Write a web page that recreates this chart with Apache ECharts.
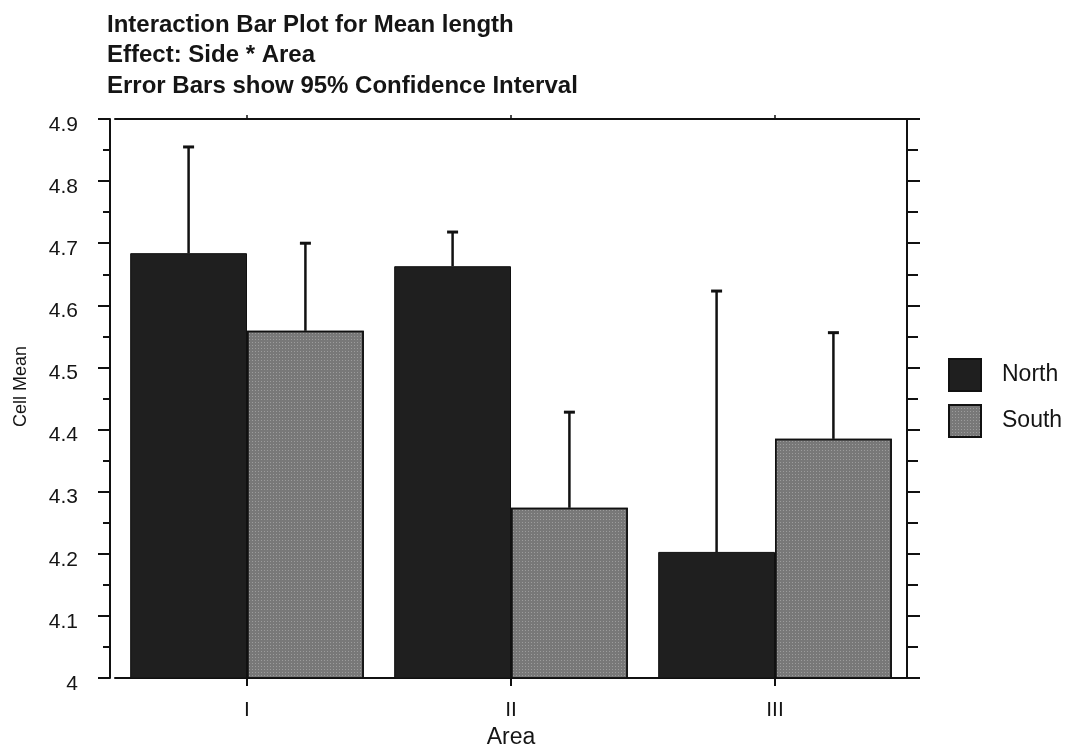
<!DOCTYPE html>
<html>
<head>
<meta charset="utf-8">
<script src="https://cdn.jsdelivr.net/npm/echarts@6/dist/echarts.min.js"></script>
<style>
html,body{margin:0;padding:0;background:#ffffff;}
#chart{width:1070px;height:751px;}
</style>
</head>
<body>
<div id="chart"></div>
<script>
var categories = ['I', 'II', 'III'];
var seriesNames = ['North', 'South'];
var northMean = [4.684, 4.663, 4.203];
var northUpper = [4.855, 4.718, 4.623];
var southMean = [4.559, 4.274, 4.385];
var southUpper = [4.700, 4.428, 4.556];
var yTicks = [4, 4.1, 4.2, 4.3, 4.4, 4.5, 4.6, 4.7, 4.8, 4.9];

var GAP = 0.115;
var FONT = '"Liberation Sans", Arial, Helvetica, sans-serif';

function errData(mean, upper) {
  return mean.map(function (m, i) { return [i, m, upper[i]]; });
}

function makeErr(side) {
  return function (params, api) {
    var cat = api.value(0), mean = api.value(1), up = api.value(2);
    var base = api.coord([cat, mean]);
    var top = api.coord([cat, up]);
    var bandW = api.size([1, 0])[0];
    var barW = bandW * (1 - GAP) / 2;
    var x = base[0] + side * barW / 2;
    return {
      type: 'group',
      children: [
        { type: 'line', shape: { x1: x, y1: base[1], x2: x, y2: top[1] }, style: { stroke: '#111', lineWidth: 2.5 } },
        { type: 'line', shape: { x1: x - 5.5, y1: top[1], x2: x + 5.5, y2: top[1] }, style: { stroke: '#111', lineWidth: 3 } }
      ]
    };
  };
}

var chart = echarts.init(document.getElementById('chart'), null, { renderer: 'canvas' });
var axisLine = { show: true, lineStyle: { color: '#111', width: 2 } };
var southDecal = {
  symbol: 'rect',
  symbolSize: 1,
  color: 'rgba(200,200,200,0.45)',
  dashArrayX: [1, 2],
  dashArrayY: [1, 2],
  rotation: 0
};

chart.setOption({
  backgroundColor: '#ffffff',
  animation: false,
  title: {
    text: 'Interaction Bar Plot for Mean length\nEffect: Side * Area\nError Bars show 95% Confidence Interval',
    left: 102,
    top: 5,
    textStyle: { fontFamily: FONT, fontSize: 24, fontWeight: 'bold', color: '#151515', lineHeight: 30.5 }
  },
  legend: {
    orient: 'vertical',
    left: 943,
    top: 353,
    itemWidth: 32,
    itemHeight: 32,
    itemGap: 12,
    icon: 'rect',
    data: seriesNames,
    textStyle: { fontFamily: FONT, fontSize: 23, color: '#151515', padding: [0, 0, 0, 16] }
  },
  grid: { left: 115, right: 163, top: 119, bottom: 73, containLabel: false, outerBoundsMode: 'none' },
  xAxis: [
    {
      type: 'category',
      data: categories,
      position: 'bottom',
      name: 'Area',
      nameLocation: 'middle',
      nameGap: 41,
      nameTextStyle: { fontFamily: FONT, fontSize: 23, color: '#151515' },
      axisLine: axisLine,
      axisTick: { show: true, alignWithLabel: true, length: 8, lineStyle: { color: '#111', width: 2 } },
      axisLabel: { fontFamily: FONT, fontSize: 21, color: '#151515', margin: 22 },
      splitLine: { show: false }
    },
    {
      type: 'category',
      data: categories,
      position: 'top',
      axisLine: axisLine,
      axisTick: { show: true, alignWithLabel: true, length: 4, lineStyle: { color: '#111', width: 1.5 } },
      axisLabel: { show: false },
      splitLine: { show: false }
    }
  ],
  yAxis: [
    {
      type: 'value',
      min: 4,
      max: 4.9,
      interval: 0.1,
      offset: 5,
      position: 'left',
      name: 'Cell Mean',
      nameLocation: 'middle',
      nameGap: 80,
      nameRotate: 90,
      nameTextStyle: { fontFamily: FONT, fontSize: 18, color: '#151515', padding: [0, 0, 0, 24] },
      axisLine: axisLine,
      axisTick: { show: true, length: 12, lineStyle: { color: '#111', width: 2 } },
      minorTick: { show: true, splitNumber: 2, length: 7, lineStyle: { color: '#111', width: 2 } },
      axisLabel: {
        fontFamily: FONT, fontSize: 21, color: '#151515', margin: 32,
        verticalAlign: 'top',
        lineHeight: 12,
        formatter: function (v) {
          var r = Math.round(v * 10) / 10;
          return yTicks.indexOf(r) >= 0 ? String(r) : '';
        }
      },
      splitLine: { show: false }
    },
    {
      type: 'value',
      min: 4,
      max: 4.9,
      interval: 0.1,
      position: 'right',
      axisLine: axisLine,
      axisTick: { show: true, length: 13, lineStyle: { color: '#111', width: 2 } },
      minorTick: { show: true, splitNumber: 2, length: 11, lineStyle: { color: '#111', width: 2 } },
      axisLabel: { show: false },
      splitLine: { show: false }
    }
  ],
  series: [
    {
      name: 'North',
      type: 'bar',
      data: northMean,
      barGap: '0%',
      barCategoryGap: (GAP * 100) + '%',
      itemStyle: { color: '#1f1f1f', borderColor: '#111', borderWidth: 1 },
      z: 2
    },
    {
      name: 'South',
      type: 'bar',
      data: southMean,
      barGap: '0%',
      barCategoryGap: (GAP * 100) + '%',
      itemStyle: { color: '#787878', borderColor: '#111', borderWidth: 1.5, decal: southDecal },
      z: 2
    },
    {
      name: 'North err',
      type: 'custom',
      renderItem: makeErr(-1),
      data: errData(northMean, northUpper),
      encode: { x: 0, y: [1, 2] },
      z: 5,
      silent: true
    },
    {
      name: 'South err',
      type: 'custom',
      renderItem: makeErr(1),
      data: errData(southMean, southUpper),
      encode: { x: 0, y: [1, 2] },
      z: 5,
      silent: true
    }
  ]
});
</script>
</body>
</html>
